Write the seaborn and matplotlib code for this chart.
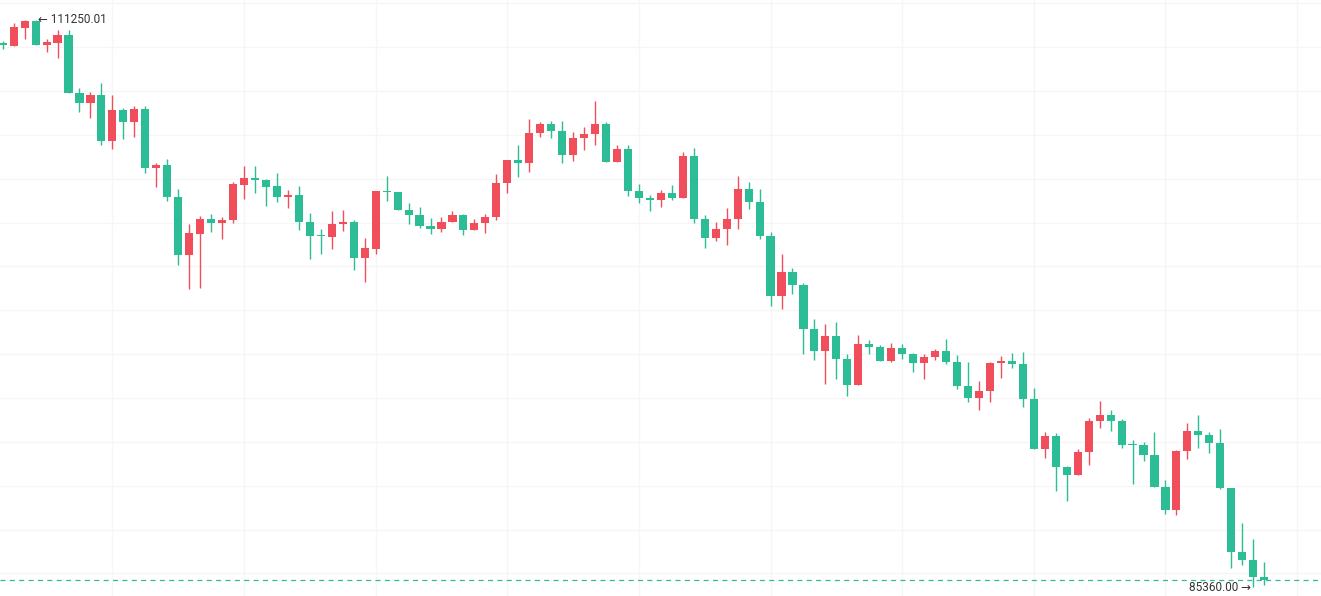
import numpy as np
import pandas as pd
import matplotlib
matplotlib.use("Agg")
import matplotlib.pyplot as plt
import seaborn as sns

sns.set_style("white")
plt.rcParams['font.family'] = ['Roboto', 'DejaVu Sans']

# OHLC values (red = up, green = down)
opens = [110130, 110070, 110890, 111200, 110110, 110200, 110550, 107920, 107470, 107800,
         105730, 107130, 106600, 107170, 104500, 104630, 103180, 100540, 101500, 102160,
         101990, 102100, 103710, 104020, 103930, 103650, 103180, 103240, 102040, 101400,
         101360, 101930, 102030, 100400, 100810, 103440, 103380, 102590, 102360, 101860,
         101720, 102030, 102350, 101680, 101970, 102250, 103800, 104850, 104730, 106080,
         106500, 106190, 105100, 105840, 106020, 106500, 104780, 105360, 103450, 103140,
         103030, 103350, 103130, 105040, 102160, 101310, 101690, 102150, 103520, 102950,
         101400, 98670, 99750, 99170, 97160, 96160, 96830, 95790, 94610, 96460,
         96340, 95700, 96280, 96020, 95610, 95870, 96140, 95660, 94560, 94020,
         94320, 95580, 95690, 95570, 93970, 91690, 92270, 90870, 90490, 91540,
         92950, 93230, 92970, 91900, 91840, 91420, 89960, 88910, 91580, 92500,
         92330, 91960, 89870, 86970, 86630, 85850]
highs = [110290, 111090, 111230, 111250.01, 110370, 110780, 110760, 108120, 107950, 108370,
         107800, 107230, 107320, 107320, 104730, 104890, 103520, 101920, 102310, 102410,
         102240, 103850, 104580, 104580, 104000, 104250, 103470, 103670, 102420, 101690,
         102530, 102570, 102100, 101300, 103460, 104120, 103400, 102880, 102720, 102220,
         102250, 102530, 102380, 102180, 102380, 104220, 104870, 105540, 106720, 106590,
         106630, 106630, 106130, 106350, 107540, 106590, 105540, 105540, 103760, 103260,
         103490, 103710, 105230, 105390, 102330, 102040, 102650, 104120, 103850, 103520,
         101570, 100550, 99920, 99230, 97600, 97380, 97470, 95990, 96870, 96630,
         96430, 96510, 96460, 96030, 96020, 96240, 96690, 95960, 95630, 94790,
         95640, 95920, 96070, 96090, 94460, 92450, 92420, 90880, 91690, 93090,
         93880, 93470, 93030, 92090, 91990, 92440, 90260, 91630, 92850, 93210,
         92450, 92600, 89880, 88310, 87560, 86510]
lows = [109920, 110060, 110390, 110100, 109780, 109520, 107910, 107060, 106770, 105540,
        105340, 105800, 105900, 104250, 103640, 102970, 100070, 98990, 99020, 101560,
        101240, 101970, 103090, 103360, 102770, 102950, 102680, 101660, 100350, 100570,
        100800, 101630, 99840, 99300, 100570, 103000, 102580, 101940, 101770, 101490,
        101570, 102020, 101450, 101670, 101540, 102100, 103350, 104090, 104320, 105900,
        105870, 104720, 104820, 105320, 105550, 104770, 104770, 103210, 102880, 102510,
        102720, 103030, 103120, 101990, 100850, 101160, 100960, 101710, 102610, 101240,
        98210, 98050, 98740, 95990, 95750, 94630, 94850, 94080, 94600, 95990,
        95690, 95630, 95780, 95170, 94880, 95730, 95550, 94430, 93830, 93450,
        93830, 94900, 95360, 93600, 91680, 91270, 89750, 89300, 90480, 90950,
        92620, 92510, 91710, 90080, 91140, 89950, 88710, 88670, 91230, 91730,
        91480, 89860, 86250, 86390, 85360.00, 85470]
closes = [110110, 110920, 111200, 110110, 110230, 110550, 107920, 107470, 107800, 105730,
          107130, 106600, 107170, 104500, 104630, 103180, 100540, 101510, 102160, 101990,
          102120, 103760, 104020, 103930, 103640, 103180, 103240, 102040, 101400, 101370,
          101940, 102030, 100400, 100830, 103440, 103380, 102590, 102360, 101860, 101720,
          102030, 102350, 101680, 101980, 102250, 103810, 104850, 104730, 106090, 106500,
          106190, 105100, 105860, 106040, 106500, 104780, 105360, 103450, 103130, 103040,
          103350, 103130, 105040, 102160, 101310, 101690, 102160, 103520, 102950, 101400,
          98670, 99750, 99170, 97160, 96160, 96830, 95790, 94610, 96460, 96340,
          95700, 96280, 96020, 95610, 95870, 96140, 95660, 94560, 94020, 94320,
          95580, 95690, 95570, 93970, 91690, 92270, 90870, 90490, 91540, 92950,
          93230, 92970, 91870, 91840, 91420, 89960, 88910, 91580, 92500, 92330,
          91960, 89870, 86970, 86630, 85850, 85700]

up_color = "#F04E5A"
down_color = "#2DBD96"

df = pd.DataFrame({'open': opens, 'high': highs, 'low': lows, 'close': closes})
df['idx'] = np.arange(len(df))
df['color'] = np.where(df['close'] >= df['open'], up_color, down_color)
df['bottom'] = df[['open', 'close']].min(axis=1)
df['height'] = (df['close'] - df['open']).abs().clip(lower=60)

fig = plt.figure(figsize=(13.21, 5.96), dpi=100)
ax = fig.add_axes([0, 0, 1, 1])

# wicks and bodies
ax.vlines(df['idx'], df['low'], df['high'], colors=df['color'], linewidth=1.0, zorder=2)
ax.bar(df['idx'], df['height'], bottom=df['bottom'], width=0.74, color=df['color'],
       linewidth=0, zorder=3)

# last price line
ax.axhline(closes[-1], color=down_color, linewidth=0.9, linestyle=(0, (4, 3.5)), zorder=1)

# high / low markers
i_hi = int(np.argmax(highs))
i_lo = int(np.argmin(lows))
ax.text(i_hi + 0.22, highs[i_hi], "\u2190 {:.2f}".format(highs[i_hi]), ha='left', va='center',
        fontsize=8.5, color='#333333', zorder=4)
ax.text(i_lo - 0.2, lows[i_lo], "{:.2f} \u2192".format(lows[i_lo]), ha='right', va='center',
        fontsize=8.5, color='#333333', zorder=4)

ax.set_xlim(-0.246, 120.18)
ax.set_ylim(84967, 112150)
ax.set_xticks(np.arange(10, 120, 12))
ax.set_yticks(np.arange(86000, 112001, 2000))
ax.set_xticklabels([])
ax.set_yticklabels([])
ax.tick_params(length=0)
ax.grid(True, color='#f6f6f6', linewidth=1.0, zorder=0)
ax.set_axisbelow(True)
sns.despine(ax=ax, left=True, bottom=True)

fig.savefig("out.png", dpi=100, facecolor='white')
